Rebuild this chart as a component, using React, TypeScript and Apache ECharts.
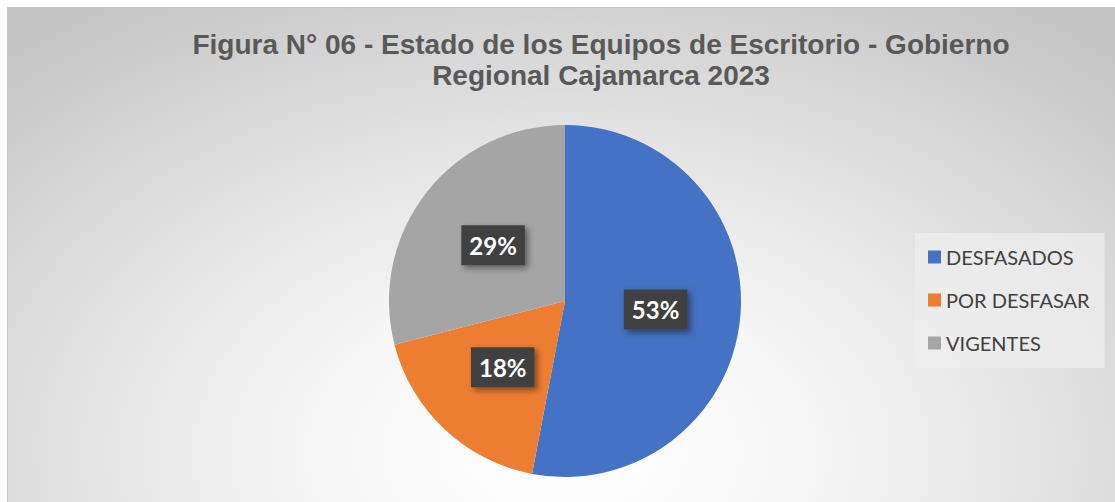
import React, { useEffect, useRef } from "react";
import * as echarts from "echarts";

const titleLines = [
  "Figura N° 06 - Estado de los Equipos de Escritorio - Gobierno",
  "Regional Cajamarca 2023",
];
const categories = ["DESFASADOS", "POR DESFASAR", "VIGENTES"];
const values = [53, 18, 29];
const colors = ["#4472C4", "#ED7D31", "#A5A5A5"];

export default function App() {
  const ref = useRef<HTMLDivElement>(null);
  useEffect(() => {
    if (!ref.current) return;
    const chart = echarts.init(ref.current, undefined, { renderer: "svg" });
    chart.setOption({
      animation: false,
      backgroundColor: "transparent",
      title: {
        text: titleLines.join("\n"),
        left: 601,
        top: 29,
        padding: 0,
        textAlign: "center",
        textStyle: {
          fontFamily: "Liberation Sans",
          fontWeight: "bold",
          fontSize: 28,
          lineHeight: 31,
          color: "#595959",
        },
      },
      legend: {
        orient: "vertical",
        left: 915,
        top: 233,
        padding: [14, 15, 15, 13],
        itemWidth: 13,
        itemHeight: 13,
        itemGap: 23,
        backgroundColor: "rgba(238,238,238,0.75)",
        icon: "rect",
        data: categories,
        textStyle: {
          fontFamily: "Lato",
          fontSize: 20,
          lineHeight: 20,
          color: "#404040",
          padding: [0, 0, 0, 0],
        },
      },
      series: [
        {
          type: "pie",
          center: [565, 301],
          radius: 176,
          startAngle: 90,
          clockwise: true,
          data: categories.map((name, i) => ({
            name,
            value: values[i],
            itemStyle: { color: colors[i] },
          })),
          label: {
            show: true,
            position: "inside",
            formatter: "{c}%",
            fontFamily: "Lato",
            fontWeight: "bold",
            fontSize: 24,
            lineHeight: 24,
            color: "#ffffff",
            backgroundColor: "#404040",
            padding: [8, 8, 8, 8],
            shadowBlur: 6,
            shadowColor: "rgba(0,0,0,0.45)",
            shadowOffsetX: 3,
            shadowOffsetY: 3,
          },
          labelLine: { show: false },
          emphasis: { disabled: true },
        },
      ],
    });
    return () => chart.dispose();
  }, []);
  return (
    <div
      style={{
        position: "fixed",
        left: 0,
        top: 0,
        width: 1115,
        height: 502,
        background: "#ffffff",
      }}
    >
      <div
        style={{
          position: "absolute",
          left: 7,
          top: 7,
          width: 1108,
          height: 495,
          boxSizing: "border-box",
          borderLeft: "1px solid #c4c4c4",
          borderTop: "1px solid #c4c4c4",
          background:
            "radial-gradient(ellipse 75% 110% at 50% 90%, #ffffff 0%, #f6f6f6 30%, #e2e2e2 60%, #c4c4c4 100%)",
        }}
      />
      <div
        ref={ref}
        style={{ position: "absolute", left: 0, top: 0, width: 1115, height: 502 }}
      />
    </div>
  );
}
